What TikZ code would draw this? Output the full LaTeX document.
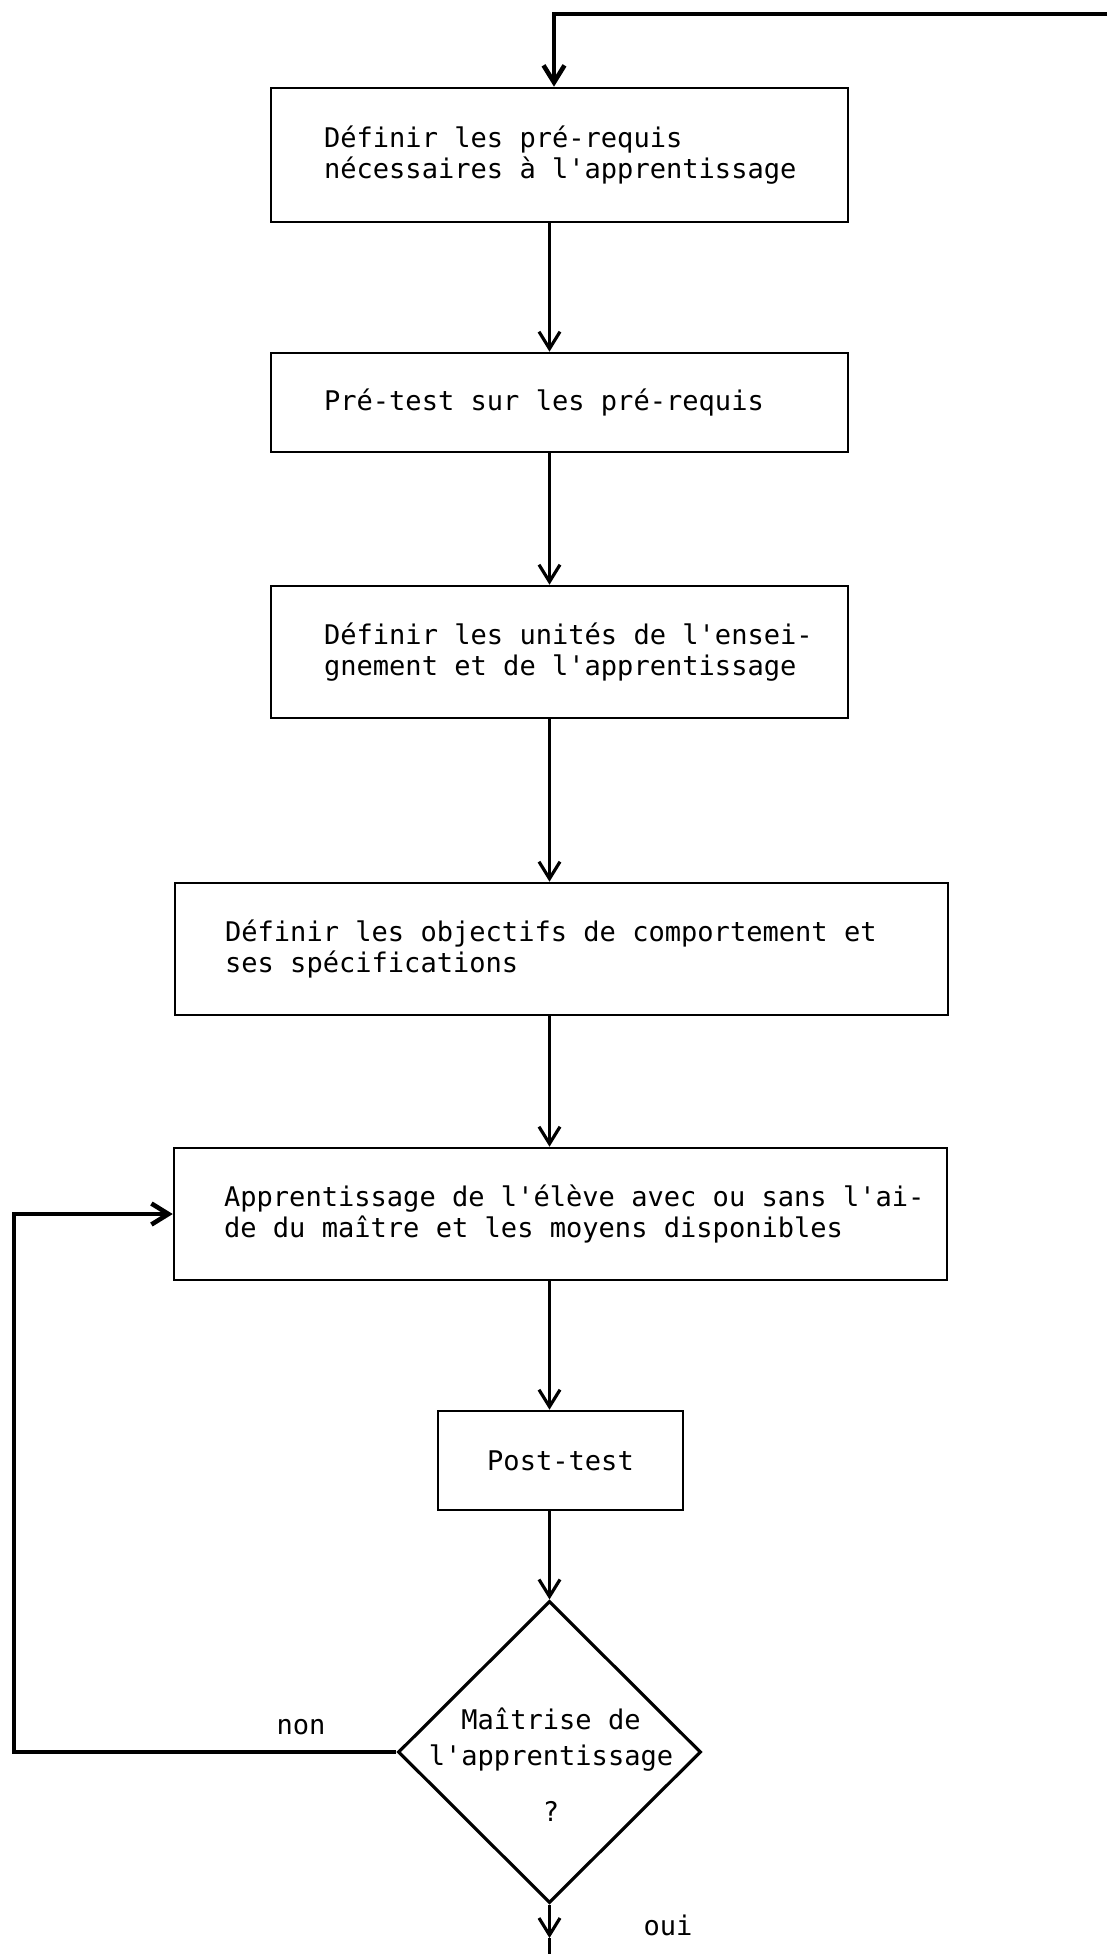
\documentclass[tikz,border=0pt]{standalone}
\usepackage{fontspec}
\setmonofont{DejaVu Sans Mono}
\usetikzlibrary{arrows.meta,shapes.geometric}
\newcommand\machine[1]{\ttfamily\fontsize{15.4}{#1}\selectfont}

\begin{document}
\begin{tikzpicture}[x=0.02cm,y=-0.02cm,
    every node/.style={font=\machine{17.8pt}},
    etape/.style={draw,line width=1.5pt,align=left,inner ysep=0pt,
      execute at begin node={\spaceskip=0pt\xspaceskip=0pt\relax}},
    fleche/.style={line width=1.8pt,-{Straight Barb[length=0.34cm,width=0.42cm]}},
    retour/.style={fleche,line width=2.6pt}]
  \useasboundingbox (0,0) rectangle (1107,1954);
  \coordinate (axe) at (549.5,0);
  \coordinate (haut) at (1107,14);
  \coordinate (entree) at (554,0);
  \coordinate (gauche) at (14,1500);
  \coordinate (ouitip) at (549.5,1938);
  \coordinate (sortie) at (549.5,1954);
  \node[etape,text width=9.42cm,inner xsep=1.06cm,minimum height=2.68cm] (prereq) at (559.5,155)
    {\mbox{Définir les pré-requis}\\\mbox{nécessaires à l'apprentissage}};
  \node[etape,text width=9.42cm,inner xsep=1.06cm,minimum height=1.98cm] (pretest) at (559.5,402.5)
    {\mbox{Pré-test sur les pré-requis}};
  \node[etape,text width=9.42cm,inner xsep=1.06cm,minimum height=2.64cm] (unites) at (559.5,652)
    {\mbox{Définir les unités de l'ensei-}\\\mbox{gnement et de l'apprentissage}};
  \node[etape,text width=13.46cm,inner xsep=1.0cm,minimum height=2.64cm] (objectifs) at (561.5,949)
    {\mbox{Définir les objectifs de comportement et}\\\mbox{ses spécifications}};
  \node[etape,text width=13.46cm,inner xsep=1.0cm,minimum height=2.64cm] (appr) at (560.5,1214)
    {\mbox{Apprentissage de l'élève avec ou sans l'ai-}\\\mbox{de du maître et les moyens disponibles}};
  \node[etape,align=center,minimum width=4.9cm,minimum height=1.98cm] (posttest) at (560.5,1460.5)
    {Post-test};
  \node[draw,diamond,line width=1.8pt,minimum width=6.06cm,minimum height=6.04cm,inner sep=0pt] (maitrise) at (549.5,1752) {};
  \node[align=center,font=\machine{20.5pt}] (question) at (551,1765)
    {Maîtrise de\\l'apprentissage\\[0.4cm]?};
  \node (non) at (301,1727) {non};
  \node (oui) at (668,1925) {oui};
  \begin{scope}[fleche]
    \draw (prereq.south -| axe) to (pretest.north -| axe);
    \draw (pretest.south -| axe) to (unites.north -| axe);
    \draw (unites.south -| axe) to (objectifs.north -| axe);
    \draw (objectifs.south -| axe) to (appr.north -| axe);
    \draw (appr.south -| axe) to (posttest.north -| axe);
    \draw (posttest.south -| axe) to (maitrise.north);
    \draw (maitrise.south) to (ouitip);
  \end{scope}
  \draw[line width=1.8pt] (ouitip) -- (sortie);
  \draw[retour] (haut) -| (entree |- prereq.north);
  \draw[retour] (maitrise.west) -| (gauche) |- (appr.west);
\end{tikzpicture}
\end{document}
